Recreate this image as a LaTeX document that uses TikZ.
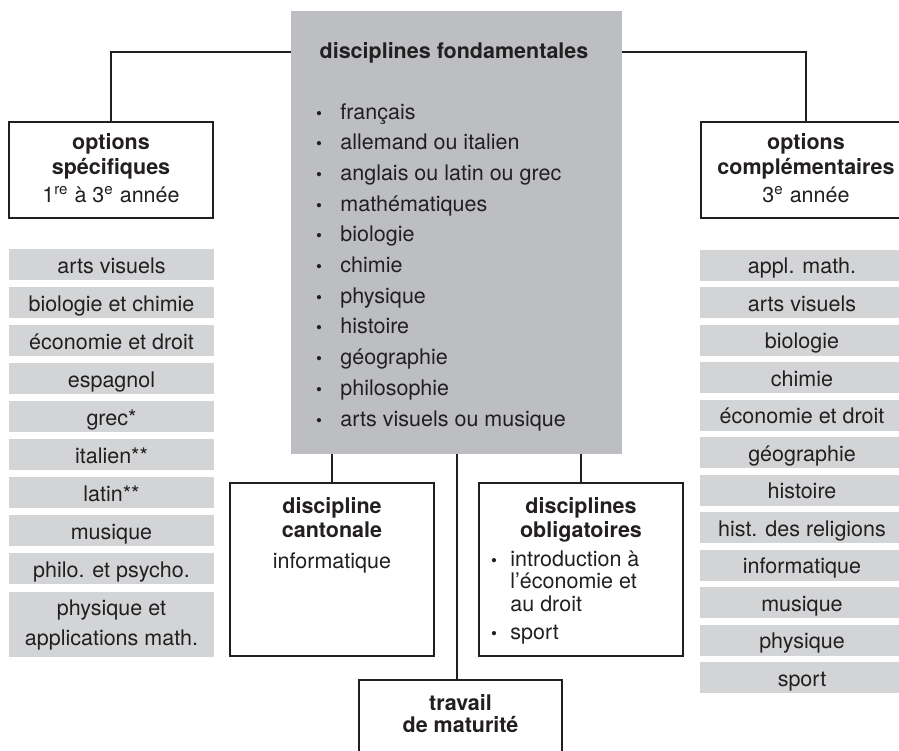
\documentclass[tikz,border=0pt]{standalone}
\usepackage{fontspec}
\setmainfont{TeX Gyre Heros}
\definecolor{fondgray}{RGB}{189,190,193}
\definecolor{optgray}{RGB}{211,212,214}
\definecolor{ink}{RGB}{35,31,32}

\begin{document}
\begin{tikzpicture}[x=0.5pt,y=-0.5pt,
  txt/.style={font=\fontsize{10.75}{15}\selectfont, text=ink, inner sep=0pt},
  head/.style={txt, font=\fontsize{10.75}{15}\selectfont\bfseries, anchor=base},
  bul/.style={font=\fontsize{8.5}{9}\selectfont, text=ink, anchor=base, inner sep=0pt},
  box/.style={draw=ink, line width=0.65pt, fill=white, inner sep=0pt},
  link/.style={draw=ink, line width=1pt},
  opt/.style={txt, fill=optgray, minimum width=102.5pt, minimum height=15.5pt,
    text height=8.5pt, text depth=0pt}]
  \useasboundingbox (0,0) rectangle (899,750);
  \clip (0,0) rectangle (899,750);
  % central block
  \node[fill=fondgray, inner sep=0pt, minimum width=165.5pt, minimum height=221.5pt] (fond) at (456.5,232.5) {};
  \node[head] (title) at (454,58) {disciplines fondamentales};
  \foreach \t [count=\i] in {français, allemand ou italien, anglais ou latin ou grec,
    mathématiques, biologie, chimie, physique, histoire, géographie, philosophie,
    arts visuels ou musique}{
    \node[bul] (b\i) at (319,88.3+30.7*\i) {•};
    \node[txt, anchor=base west] (f\i) at (340,88.3+30.7*\i) {\t};
  }
  % side boxes
  \node[box, minimum width=102pt, minimum height=48pt] (osp) at (111,170) {};
  \node[head] (osp1) at (111,149) {options};
  \node[head] (osp2) at (111,174) {spécifiques};
  \node[txt, anchor=base] (osp3) at (111,202) {1\textsuperscript{re} à 3\textsuperscript{e} année};
  \node[box, minimum width=105pt, minimum height=48pt] (ocp) at (806,170) {};
  \node[head] (ocp1) at (806,149) {options};
  \node[head] (ocp2) at (806,174) {complémentaires};
  \node[txt, anchor=base] (ocp3) at (806,202) {3\textsuperscript{e} année};
  \draw[link] (osp.north) |- (fond.west |- title);
  \draw[link] (ocp.north) |- (fond.east |- title);
  % option lists
  \foreach \t [count=\i] in {arts visuels, biologie et chimie, économie et droit,
    espagnol, grec*, italien**, latin**, musique, philo. et psycho.}
    \node[opt] (l\i) at (111.5,226.5+38*\i) {\t};
  \node[txt, fill=optgray, minimum width=102.5pt, minimum height=32.5pt, align=center] (l10) at (111.5,624.5) {physique et\\applications math.};
  \foreach \t [count=\i] in {appl. math., arts visuels, biologie, chimie,
    économie et droit, géographie, histoire, hist. des religions, informatique,
    musique, physique, sport}
    \node[opt] (r\i) at (802,227.5+37.5*\i) {\t};
  % lower boxes
  \node[box, minimum width=102pt, minimum height=86.5pt] (cant) at (332,569.5) {};
  \node[head] (cant1) at (332,513) {discipline};
  \node[head] (cant2) at (332,537) {cantonale};
  \node[txt, anchor=base] (cant3) at (332,568) {informatique};
  \node[box, minimum width=102pt, minimum height=86.5pt] (oblig) at (581,569.5) {};
  \node[head] (oblig1) at (581,513) {disciplines};
  \node[head] (oblig2) at (581,537) {obligatoires};
  \node[bul] (ob1) at (494,566) {•};
  \node[txt, anchor=base west] (oblig3) at (510,566) {introduction à};
  \node[txt, anchor=base west] (oblig4) at (510,588) {l’économie et};
  \node[txt, anchor=base west] (oblig5) at (510,611) {au droit};
  \node[bul] (ob2) at (494,639) {•};
  \node[txt, anchor=base west] (oblig6) at (510,639) {sport};
  \node[box, minimum width=101.5pt, minimum height=55pt] (trav) at (460.5,735) {};
  \node[head] (trav1) at (460.5,710) {travail};
  \node[head] (trav2) at (460.5,732) {de maturité};
  \draw[link] (cant.north) -- (cant.north |- fond.south);
  \draw[link] (oblig.north) -- (oblig.north |- fond.south);
  \draw[link] (fond.south) -- (fond.south |- trav.north);
\end{tikzpicture}
\end{document}
